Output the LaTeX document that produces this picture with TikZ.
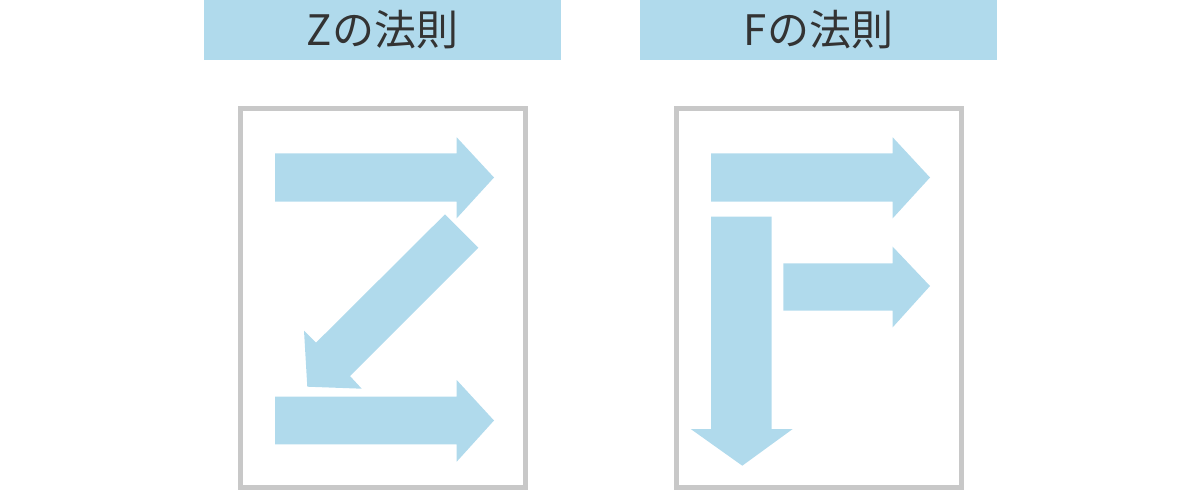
\documentclass[tikz,border=0pt]{standalone}
\usepackage{fontspec}
\newfontfamily\cjk{Noto Sans CJK JP}
\definecolor{lblue}{HTML}{B0DAEC}
\definecolor{framegray}{HTML}{C8C8C8}
\definecolor{textgray}{HTML}{333333}
\tikzset{
  header/.style={fill=lblue, draw=none, minimum width=357pt, minimum height=60pt, inner sep=0pt,
    font=\cjk\fontsize{42}{48}\selectfont, text=textgray},
  frame/.style={draw=framegray, line width=5pt},
  arrowshape/.style={fill=lblue, draw=none}
}
\begin{document}
\begin{tikzpicture}[x=1pt,y=-1pt]
\useasboundingbox (0,0) rectangle (1200,490);
% headers
\node[header] (hz) at (382.5,30) {Zの法則};
\node[header] (hf) at (818.5,30) {Fの法則};
% frames
\draw[frame] (240,108.5) rectangle (525.5,487.5);
\draw[frame] (676,108.5) rectangle (961.5,487.5);
% Z arrows
\fill[arrowshape] (275,153.3) -- (456.7,153.3) -- (456.7,137.3) -- (494,177.5) -- (456.7,218.3) -- (456.7,201.7) -- (275,201.7) -- cycle;
\fill[arrowshape] (445,214.3) -- (478.3,247.7) -- (350,376) -- (361.7,388.7) -- (307.3,386.7) -- (304,330.7) -- (316,342.7) -- cycle;
\fill[arrowshape] (275,396.7) -- (456.7,396.7) -- (456.7,380) -- (494,420.5) -- (456.7,461.7) -- (456.7,444.3) -- (275,444.3) -- cycle;
% F arrows
\fill[arrowshape] (711,153.3) -- (892.7,153.3) -- (892.7,137.3) -- (930,177.5) -- (892.7,218.3) -- (892.7,201.7) -- (711,201.7) -- cycle;
\fill[arrowshape] (783.3,263.3) -- (892.7,263.3) -- (892.7,246.7) -- (930,286) -- (892.7,327.3) -- (892.7,310.7) -- (783.3,310.7) -- cycle;
\fill[arrowshape] (711,216.7) -- (771.7,216.7) -- (771.7,429) -- (792.7,429) -- (742.3,465.7) -- (690.7,429) -- (711,429) -- cycle;
\end{tikzpicture}
\end{document}
